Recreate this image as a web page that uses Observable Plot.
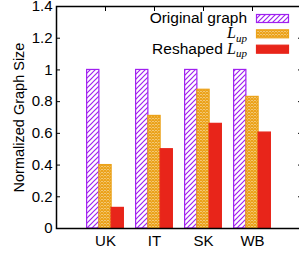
<!DOCTYPE html>
<html><head><meta charset="utf-8">
<script src="https://cdn.jsdelivr.net/npm/d3@7"></script>
<script src="https://cdn.jsdelivr.net/npm/@observablehq/plot@0.6"></script>
<style>
html,body{margin:0;padding:0;background:#fff;overflow:hidden}
</style>
</head><body><div id="chart"></div>
<script>
const categories = ["UK", "IT", "SK", "WB"];
const seriesNames = ["Original graph", "L_up", "Reshaped L_up"];
const originalGraph = [1, 1, 1, 1];
const lUp = [0.40, 0.71, 0.875, 0.83];
const reshapedLUp = [0.13, 0.50, 0.66, 0.605];
const yTicks = [0, 0.2, 0.4, 0.6, 0.8, 1, 1.2, 1.4];
const yTickLabels = ["0", "0.2", "0.4", "0.6", "0.8", "1", "1.2", "1.4"];
const xTicks = [1, 2, 3, 4];
const seriesColors = ["#a020f0", "#eba21a", "#e8251a"];
const seriesFills = ["url(#hatch)", "url(#cross)", "#e8251a"];

const valuesBySeries = [originalGraph, lUp, reshapedLUp];
const barWidth = 0.25;
const rows = [];
valuesBySeries.forEach((vals, si) => vals.forEach((v, ci) => rows.push({category: categories[ci], ci, si, value: v})));

const barMarks = valuesBySeries.map((_, si) => Plot.rectY(rows.filter(d => d.si === si), {
  x1: d => d.ci + 1 + (d.si - 1.5) * barWidth,
  x2: d => d.ci + 1 + (d.si - 0.5) * barWidth,
  y: "value",
  fill: seriesFills[si],
  stroke: seriesColors[si],
  strokeWidth: 1.2
}));

const svg = Plot.plot({
  width: 299,
  height: 259,
  marginLeft: 56,
  marginRight: -2,
  marginTop: 6,
  marginBottom: 31,
  style: {fontFamily: "'Liberation Sans', Arial, sans-serif", fontSize: "15px", color: "black", background: "white"},
  x: {type: "linear", domain: [0, 5], label: null},
  y: {domain: [0, 1.4], label: null},
  marks: [
    ...barMarks,
    Plot.frame({stroke: "black", strokeWidth: 1.5}),
    Plot.axisY(yTicks, {tickSize: 0, tickPadding: 4, tickFormat: d => yTickLabels[yTicks.indexOf(d)], label: null}),
    Plot.axisY(yTicks, {anchor: "left", tickSize: -4, tickFormat: () => "", label: null, strokeWidth: 1}),
    Plot.axisY(yTicks, {anchor: "right", tickSize: -4, tickFormat: () => "", label: null, strokeWidth: 1}),
    Plot.axisX(xTicks, {tickSize: 0, tickPadding: 7, tickFormat: d => categories[d - 1], label: null}),
    Plot.axisX(xTicks, {anchor: "top", tickSize: -4, tickFormat: () => "", label: null, strokeWidth: 1}),
    Plot.text(["Normalized Graph Size"], {text: d => d, frameAnchor: "left", textAnchor: "middle", rotate: -90, dx: -37, fontSize: 14.5})
  ]
});

const s = d3.select(svg);
const tickTexts = new Set([...yTickLabels, ...categories]);
s.selectAll("text").filter(function() { return tickTexts.has(this.textContent); })
  .style("font-size", "15px").attr("font-size", 15);

const defs = s.insert("defs", ":first-child");
const hp = defs.append("pattern").attr("id", "hatch").attr("patternUnits", "userSpaceOnUse").attr("width", 5).attr("height", 5);
hp.append("rect").attr("width", 5).attr("height", 5).attr("fill", "white");
hp.append("path").attr("d", "M-1,1 l2,-2 M0,5 l5,-5 M4,6 l2,-2").attr("stroke", seriesColors[0]).attr("stroke-width", 1.2);
const cp = defs.append("pattern").attr("id", "cross").attr("patternUnits", "userSpaceOnUse").attr("width", 3).attr("height", 3);
cp.append("rect").attr("width", 3).attr("height", 3).attr("fill", "#fbe9c4");
cp.append("path").attr("d", "M0,0 l3,3 M3,0 l-3,3").attr("stroke", seriesColors[1]).attr("stroke-width", 1.3);

// legend
const lg = s.append("g").attr("font-size", 15.5).attr("font-family", "'Liberation Sans', Arial, sans-serif");
const rowY = [18.5, 33.8, 49.2];
seriesNames.forEach((name, i) => {
  const t = lg.append("text").attr("x", 247).attr("y", rowY[i] + 4.5).attr("text-anchor", "end").attr("fill", "black");
  const parts = name.split("L_up");
  if (parts[0]) t.append("tspan").text(parts[0]);
  if (parts.length > 1) {
    t.append("tspan").attr("font-family", "'Liberation Serif', serif").attr("font-style", "italic").attr("font-size", 16).text("L");
    t.append("tspan").attr("font-family", "'Liberation Serif', serif").attr("font-style", "italic").attr("font-size", 11).attr("dy", 3.5).text("up");
  }
  lg.append("rect").attr("x", 256.5).attr("y", rowY[i] - 4).attr("width", 32).attr("height", 8)
    .attr("fill", seriesFills[i]).attr("stroke", seriesColors[i]).attr("stroke-width", 1.2);
});

document.getElementById("chart").appendChild(svg);
</script></body></html>
